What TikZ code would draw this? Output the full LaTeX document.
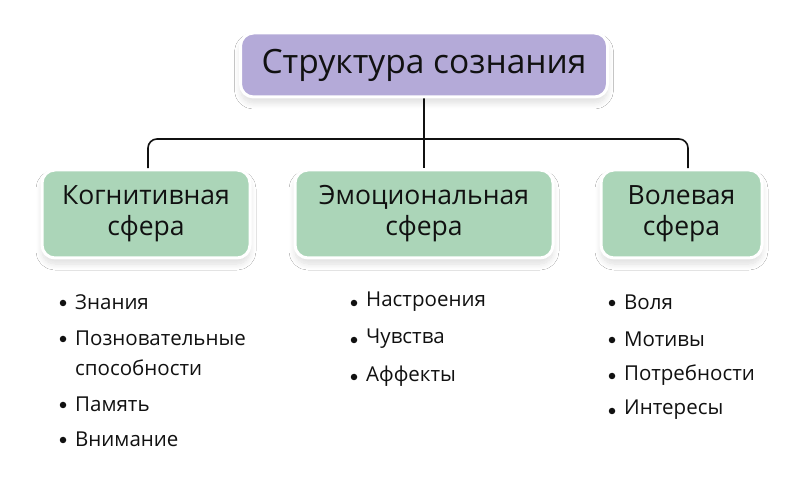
\documentclass[tikz,border=0pt]{standalone}
\usepackage{fontspec}
\setmainfont{Open Sans}
\usetikzlibrary{shadows.blur,backgrounds}
\definecolor{titlefill}{HTML}{B4AAD8}
\definecolor{spherefill}{HTML}{ABD5B8}
\definecolor{ink}{HTML}{111111}
\begin{document}
\begin{tikzpicture}[x=1pt,y=-1pt,
  box/.style={draw=white, line width=3pt, rounded corners=13pt, align=center, inner sep=0pt,
    text=ink, blur shadow={shadow blur steps=10, shadow xshift=0pt, shadow yshift=-6pt, shadow opacity=13, shadow blur radius=6pt}},
  titlebox/.style={box, fill=titlefill, minimum width=367pt, minimum height=64pt, font=\fontsize{33.5}{35}\selectfont},
  spherebox/.style={box, fill=spherefill, minimum height=88pt, font=\fontsize{26.5}{31}\selectfont},
  link/.style={draw=ink, line width=1.6pt, rounded corners=9pt},
  dot/.style={circle, fill=ink, inner sep=0pt, minimum size=6.5pt},
  entry/.style={anchor=west, inner sep=0pt, text=ink, align=left, font=\fontsize{20.5}{30}\selectfont}]
\useasboundingbox (0,0) rectangle (807,489);

\node[titlebox] (title) at (424,65) {\raisebox{-3pt}{Структура сознания}};
\node[spherebox, minimum width=208pt] (cog) at (146,214) {Когнитивная\\сфера};
\node[spherebox, minimum width=258pt] (emo) at (424,214) {Эмоциональная\\сфера};
\node[spherebox, minimum width=161pt] (vol) at (681.5,214) {Волевая\\сфера};

\coordinate (hub) at (424,139);
\coordinate (lx) at (148,139);
\coordinate (rx) at (688,139);
\begin{scope}[on background layer]
\fill[white] (0,0) rectangle (807,489);
\draw[link] (title.south) -- (emo.north);
\draw[link] (cog.north -| lx) |- (hub) -| (vol.north -| rx);
\end{scope}

% Cognitive list
\node[dot] (cb1) at (63,303) {};
\node[entry] (ct1) at (75,302) {Знания};
\node[dot] (cb2) at (63,339) {};
\node[entry, anchor=north west] (ct2) at (75,331) {Позновательные\\способности};
\node[dot] (cb3) at (63,405) {};
\node[entry] (ct3) at (75,404) {Память};
\node[dot] (cb4) at (63,440) {};
\node[entry] (ct4) at (75,439) {Внимание};

% Emotional list
\node[dot] (eb1) at (354,303) {};
\node[entry] (et1) at (366,302) {Настроения};
\node[dot] (eb2) at (354,340) {};
\node[entry] (et2) at (366,339) {Чувства};
\node[dot] (eb3) at (354,377) {};
\node[entry] (et3) at (366,376) {Аффекты};

% Volitional list
\node[dot] (vb1) at (612,303) {};
\node[entry] (vt1) at (624,302) {Воля};
\node[dot] (vb2) at (612,340) {};
\node[entry] (vt2) at (624,339) {Мотивы};
\node[dot] (vb3) at (612,376) {};
\node[entry] (vt3) at (624,375) {Потребности};
\node[dot] (vb4) at (612,411) {};
\node[entry] (vt4) at (624,410) {Интересы};
\end{tikzpicture}
\end{document}
